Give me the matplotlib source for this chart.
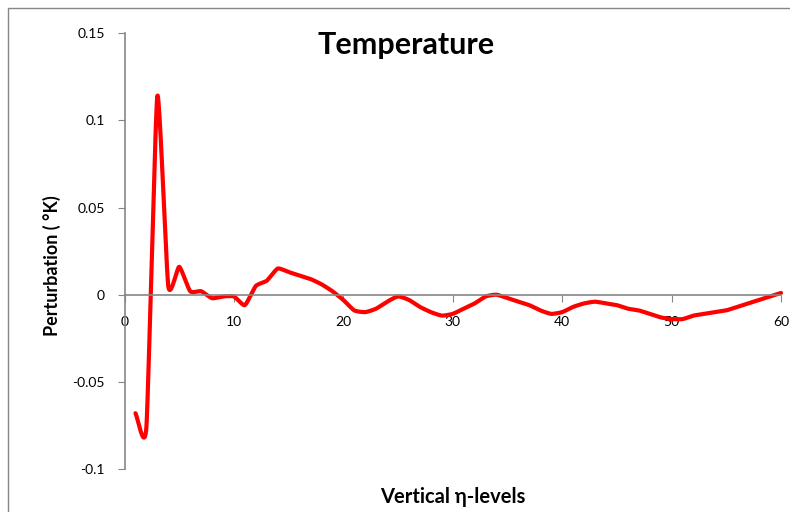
import numpy as np
import matplotlib.pyplot as plt
from matplotlib.patches import Rectangle

plt.rcParams['font.family'] = ['Lato', 'DejaVu Sans']

# vertical levels and temperature perturbation
levels = np.arange(1, 61)
perturbation = [
    -0.068, -0.076, 0.114, 0.005, 0.016, 0.002, 0.002, -0.002, -0.001, -0.001,
    -0.006, 0.005, 0.008, 0.015, 0.013, 0.011, 0.009, 0.006, 0.002, -0.003,
    -0.009, -0.010, -0.008, -0.004, -0.001, -0.003, -0.007, -0.010, -0.012, -0.011,
    -0.008, -0.005, -0.001, 0.000, -0.002, -0.004, -0.006, -0.009, -0.011, -0.010,
    -0.007, -0.005, -0.004, -0.005, -0.006, -0.008, -0.009, -0.011, -0.013, -0.014,
    -0.014, -0.012, -0.011, -0.010, -0.009, -0.007, -0.005, -0.003, -0.001, 0.001,
]
xticks = [0, 10, 20, 30, 40, 50, 60]
yticks = [-0.1, -0.05, 0, 0.05, 0.1, 0.15]
ytick_labels = ['-0.1', '-0.05', '0', '0.05', '0.1', '0.15']


def smooth(x, y, n=20, k=0.55):
    # hermite curve through the points (softened catmull-rom) for the smoothed line
    x = np.asarray(x, float)
    y = np.asarray(y, float)
    mx = np.gradient(x) * k
    my = np.gradient(y) * k
    t = np.linspace(0, 1, n, endpoint=False)
    h00 = 2 * t ** 3 - 3 * t ** 2 + 1
    h10 = t ** 3 - 2 * t ** 2 + t
    h01 = -2 * t ** 3 + 3 * t ** 2
    h11 = t ** 3 - t ** 2
    xs, ys = [], []
    for i in range(len(x) - 1):
        xs.extend(h00 * x[i] + h10 * mx[i] + h01 * x[i + 1] + h11 * mx[i + 1])
        ys.extend(h00 * y[i] + h10 * my[i] + h01 * y[i + 1] + h11 * my[i + 1])
    xs.append(x[-1])
    ys.append(y[-1])
    return xs, ys


fig = plt.figure(figsize=(7.9, 5.12), dpi=100)
ax = fig.add_axes([0.1576, 0.084, 0.8310, 0.851])

sx, sy = smooth(levels, perturbation)
ax.plot(sx, sy, color='#ff0000', lw=3, solid_capstyle='round', clip_on=False)

ax.set_xlim(0, 60)
ax.set_ylim(-0.1, 0.15)
ax.set_xticks(xticks)
ax.set_yticks(yticks)
ax.set_yticklabels(ytick_labels)

for s in ['top', 'right']:
    ax.spines[s].set_visible(False)
ax.spines['bottom'].set_position(('data', 0))
for s in ['left', 'bottom']:
    ax.spines[s].set_color('#868686')
    ax.spines[s].set_linewidth(1.2)
ax.tick_params(axis='y', direction='out', length=5, color='#868686', labelsize=10, pad=9)
ax.tick_params(axis='x', direction='out', length=5, color='#868686', labelsize=10, pad=10)

fig.text(406 / 790, 1 - 45 / 512, 'Temperature', ha='center', va='center',
         fontsize=22, fontweight='bold')
fig.text(453 / 790, 1 - 497 / 512, 'Vertical η-levels', ha='center', va='center',
         fontsize=14.5, fontweight='bold')
fig.text(52 / 790, 1 - 266 / 512, 'Perturbation ( °K)', ha='center', va='center',
         rotation=90, fontsize=13, fontweight='bold')

# chart frame
fig.patches.append(Rectangle((8 / 790, -0.1), 1.2, 1 - 8 / 512 + 0.1,
                             transform=fig.transFigure, fill=False,
                             edgecolor='#868686', lw=1))

fig.savefig('out.png', dpi=100)
